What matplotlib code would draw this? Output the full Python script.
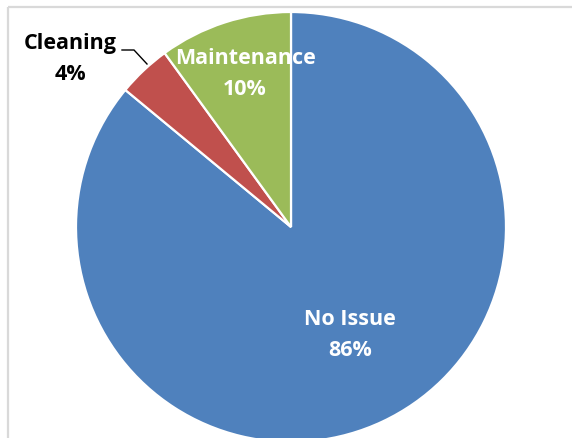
import matplotlib
matplotlib.use("Agg")
import matplotlib.pyplot as plt
from matplotlib.patches import Rectangle

categories = ["No Issue", "Cleaning", "Maintenance"]
shares = [86, 4, 10]
colors = ["#4F81BD", "#C0504D", "#9BBB59"]

W, H = 572, 439
fig = plt.figure(figsize=(W / 100, H / 100), dpi=100)
ax = fig.add_axes([0, 0, 1, 1])

# chart-area frame (open on the right and bottom, running off the canvas)
ax.add_patch(Rectangle((8, 8), 700, 600, fill=False, edgecolor="#D9D9D9",
                       linewidth=1.6, zorder=0))

# y runs downward, so start at -90 and sweep counterclockwise in data
# space to get a clockwise pie starting at 12 o'clock on screen
cx, cy, r = 291, 228, 215
wedges, _ = ax.pie(shares, colors=colors, startangle=-90, counterclock=True,
                   center=(cx, cy), radius=r, frame=True,
                   wedgeprops=dict(edgecolor="white", linewidth=1.6))
ax.set_xlim(0, W)
ax.set_ylim(H, 0)
ax.set_aspect("equal")
ax.axis("off")

font = dict(family=["Open Sans", "DejaVu Sans"], fontweight="bold",
            fontsize=15.5, ha="center", va="center", linespacing=1.65)

ax.text(350, 335, f"{categories[0]}\n{shares[0]}%", color="white", **font)
ax.text(245, 74, f"{categories[2]}\n{shares[2]}%", color="white", **font)
ax.text(70, 59, f"{categories[1]}\n{shares[1]}%", color="black", **font)

# leader line for the small slice
ax.plot([122, 134, 147], [51, 51, 65], color="black", linewidth=1.0,
        solid_joinstyle="miter")

fig.savefig("out.png", dpi=100)
